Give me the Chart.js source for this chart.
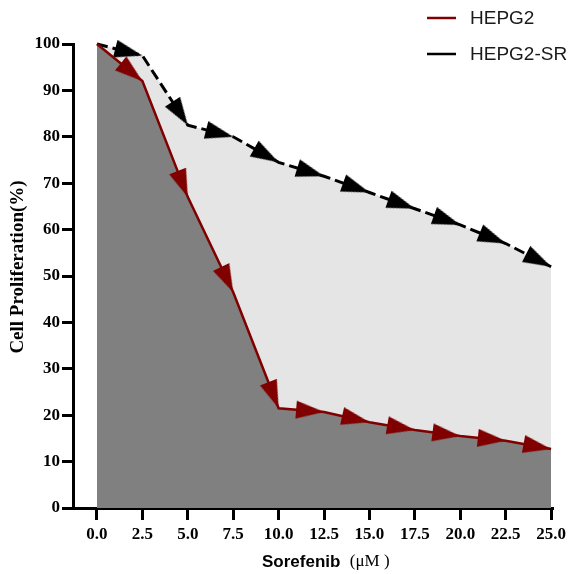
<!DOCTYPE html>
<html>
<head>
<meta charset="utf-8">
<script src="https://cdn.jsdelivr.net/npm/chart.js@4.4.1/dist/chart.umd.min.js"></script>
<style>
  html, body { margin: 0; padding: 0; background: #fff; }
  #wrap { width: 576px; height: 574px; }
</style>
</head>
<body>
<div id="wrap"><canvas id="cellChart" width="576" height="574"></canvas></div>
<script>
// values
const doses = [0, 2.5, 5, 7.5, 10, 12.5, 15, 17.5, 20, 22.5, 25];
const hepg2 = [100, 92, 67, 46.5, 21.5, 20.7, 18.5, 16.8, 15.5, 14.5, 12.7];
const hepg2SR = [100, 97.5, 82.5, 80, 74.5, 71.5, 68, 64.5, 61, 57, 52];
const xTicks = [0, 2.5, 5, 7.5, 10, 12.5, 15, 17.5, 20, 22.5, 25];
const yTicks = [0, 10, 20, 30, 40, 50, 60, 70, 80, 90, 100];

// arrow head as an image, tip at the centre, pointing right
function makeArrow(color) {
    const L = 28, W = 18;
    const c = document.createElement('canvas');
    c.width = 2 * L + 2;
    c.height = W + 2;
    const g = c.getContext('2d');
    const cx = c.width / 2, cy = c.height / 2;
    g.fillStyle = color;
    g.beginPath();
    g.moveTo(cx, cy);
    g.lineTo(cx - L, cy - W / 2);
    g.lineTo(cx - L, cy + W / 2);
    g.closePath();
    g.fill();
    return c;
}

// rotate each arrow along the segment that ends at its point
function arrowAngle(c, values) {
    const i = c.dataIndex;
    if (!i) return 0;
    const xs = c.chart.scales.x, ys = c.chart.scales.y;
    const dx = xs.getPixelForValue(doses[i]) - xs.getPixelForValue(doses[i - 1]);
    const dy = ys.getPixelForValue(values[i]) - ys.getPixelForValue(values[i - 1]);
    return Math.atan2(dy, dx) * 180 / Math.PI;
}

const redArrow = makeArrow('#800000');
const blackArrow = makeArrow('#000000');

// legend + axis titles drawn by hand
const extras = {
    id: 'extras',
    afterDraw(chart) {
        const g = chart.ctx;
        g.save();
        g.textBaseline = 'middle';
        chart.data.datasets.forEach((ds, i) => {
            const y = 18 + i * 36;
            g.strokeStyle = ds.borderColor;
            g.lineWidth = 2.5;
            g.beginPath();
            g.moveTo(427, y);
            g.lineTo(456, y);
            g.stroke();
            g.fillStyle = '#1a1a1a';
            g.font = '19px "Liberation Sans"';
            g.fillText(ds.label, 470, y + 1);
        });
        // x title: bold sans word + serif unit
        g.fillStyle = '#000';
        g.font = 'bold 17px "Liberation Sans"';
        g.fillText('Sorefenib', 262, 562);
        const w = g.measureText('Sorefenib  ').width;
        g.font = '17px "Liberation Serif"';
        g.fillText('(\u03bcM )', 262 + w, 562);
        // y title
        g.translate(18, 267);
        g.rotate(-Math.PI / 2);
        g.textAlign = 'center';
        g.font = 'bold 19px "Liberation Serif"';
        g.fillText('Cell Proliferation(%)', 0, 0);
        g.restore();
    }
};

const tickFont = { family: 'Liberation Serif', weight: 'bold', size: 17 };

const ctx = document.getElementById('cellChart').getContext('2d');
const cellChart = new Chart(ctx, {
    type: 'line',
    data: {
        datasets: [{
            label: 'HEPG2',
            data: doses.map((x, i) => ({ x: x, y: hepg2[i] })),
            borderColor: '#800000',
            borderWidth: 2.5,
            backgroundColor: '#808080',
            fill: 'origin',
            pointStyle: redArrow,
            pointRadius: c => c.dataIndex === 0 ? 0 : 10,
            rotation: c => arrowAngle(c, hepg2),
            clip: false
        }, {
            label: 'HEPG2-SR',
            data: doses.map((x, i) => ({ x: x, y: hepg2SR[i] })),
            borderColor: '#000000',
            borderWidth: 3,
            borderDash: [11, 5],
            backgroundColor: '#e5e5e5',
            fill: '-1',
            pointStyle: blackArrow,
            pointRadius: c => c.dataIndex === 0 ? 0 : 10,
            rotation: c => arrowAngle(c, hepg2SR),
            clip: false
        }]
    },
    options: {
        responsive: false,
        animation: false,
        layout: { padding: { top: 44, right: 24, left: 0, bottom: 0 } },
        plugins: {
            legend: { display: false },
            tooltip: { enabled: false }
        },
        scales: {
            x: {
                type: 'linear',
                min: -1.32,
                max: 25.05,
                z: 1,
                afterBuildTicks: a => { a.ticks = xTicks.map(v => ({ value: v })); },
                afterFit: s => { s.height = 66; },
                ticks: {
                    callback: v => v.toFixed(1),
                    font: tickFont,
                    color: '#000',
                    padding: 4,
                    maxRotation: 0,
                    autoSkip: false
                },
                grid: { drawOnChartArea: false, tickLength: 12, color: '#000', lineWidth: 3 },
                border: { color: '#000', width: 3 }
            },
            y: {
                min: 0,
                max: 100,
                z: 1,
                afterBuildTicks: a => { a.ticks = yTicks.map(v => ({ value: v })); },
                afterFit: s => { s.width = 73; },
                ticks: { font: tickFont, color: '#000', padding: 2 },
                grid: { drawOnChartArea: false, tickLength: 11, color: '#000', lineWidth: 3 },
                border: { color: '#000', width: 3 }
            }
        }
    },
    plugins: [extras]
});
</script>
</body>
</html>
